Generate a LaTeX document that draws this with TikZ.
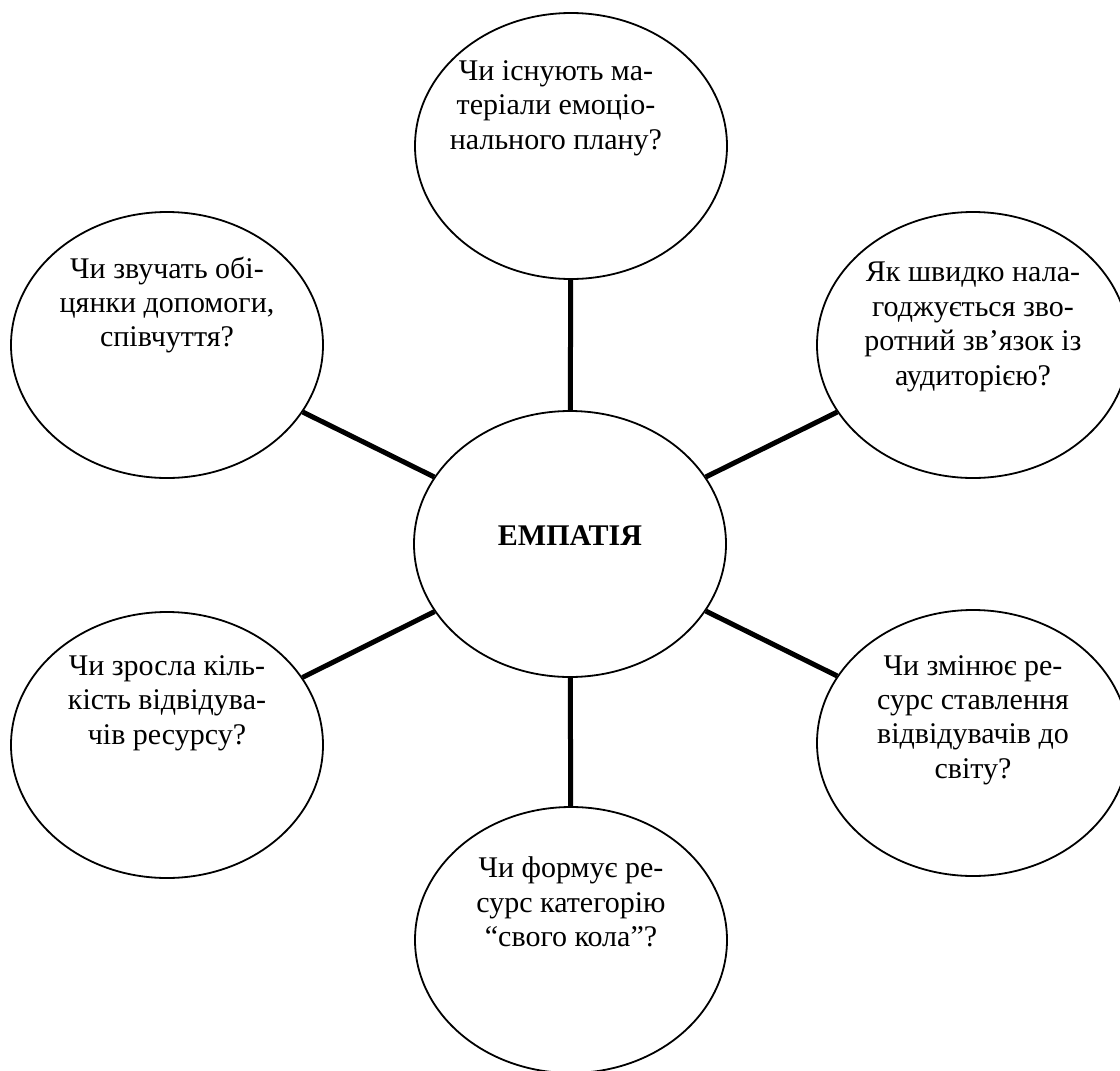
\documentclass[tikz,border=0pt]{standalone}
\usepackage{fontspec}
\setmainfont{Liberation Serif}
\usetikzlibrary{shapes.geometric}

\begin{document}
\begin{tikzpicture}[
    x = 0.5pt, y = -0.5pt, % one unit = one pixel, y downwards
    bubble/.style = {ellipse, draw = black, line width = 0.9pt,
        minimum width = 156pt, minimum height = 133pt, inner sep = 0pt},
    ask/.style = {align = center, inner sep = 0pt,
        font = \fontsize{15}{17.2}\selectfont},
    spoke/.style = {line width = 2.5pt} % thick connector
    ]
    \useasboundingbox (0,0) rectangle (1120,1071);

    % centre and the six questions
    \node[bubble, text depth = 8pt,
        font = \fontsize{15}{17.2}\selectfont\bfseries] (emp) at (570,544) {ЕМПАТІЯ};
    \node[bubble] (q1) at (571,146) {};
    \node[bubble] (q2) at (973,345) {};
    \node[bubble] (q3) at (973,743) {};
    \node[bubble] (q4) at (571,940) {};
    \node[bubble] (q5) at (167,745) {};
    \node[bubble] (q6) at (167,345) {};

    \node[ask] (t1) at ([xshift=-7.5pt, yshift=19pt]q1) {Чи існують ма-\\теріали емоціо-\\нального плану?};
    \node[ask] (t2) at ([yshift=9pt]q2) {Як швидко нала-\\годжується зво-\\ротний зв’язок із\\аудиторією?};
    \node[ask] (t3) at ([yshift=11.5pt]q3) {Чи змінює ре-\\сурс ставлення\\відвідувачів до\\світу?};
    \node[ask] (t4) at ([yshift=19pt]q4) {Чи формує ре-\\сурс категорію\\“свого кола”?};
    \node[ask] (t5) at ([yshift=21pt]q5) {Чи зросла кіль-\\кість відвідува-\\чів ресурсу?};
    \node[ask] (t6) at ([yshift=20pt]q6) {Чи звучать обі-\\цянки допомоги,\\співчуття?};

    \path[spoke] (emp) edge (q1);
    \path[spoke] (emp) edge (q2);
    \path[spoke] (emp) edge (q3);
    \path[spoke] (emp) edge (q4);
    \path[spoke] (emp) edge (q5);
    \path[spoke] (emp) edge (q6);
\end{tikzpicture}
\end{document}
